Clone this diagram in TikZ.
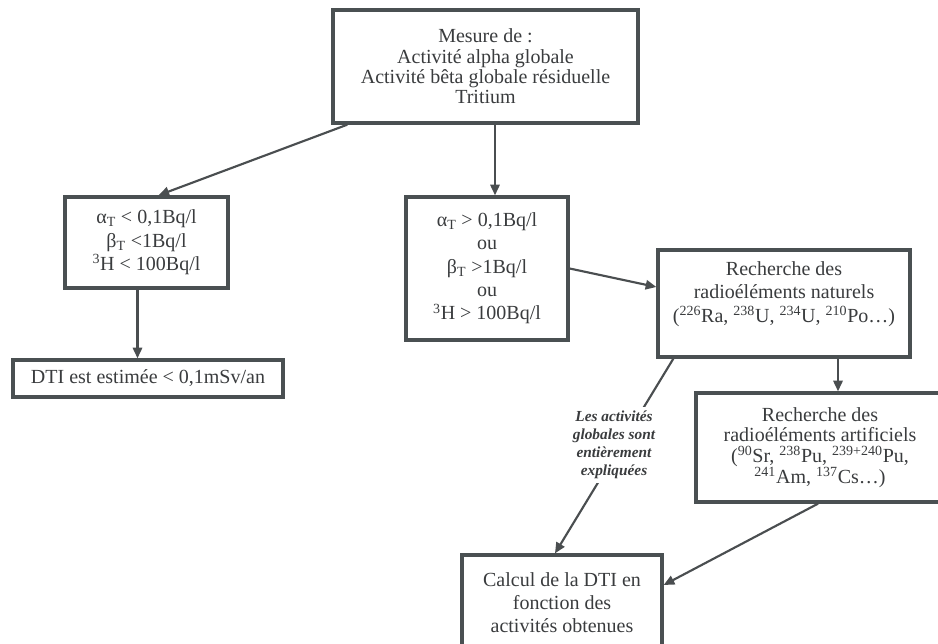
\documentclass[tikz,border=0pt]{standalone}
\usepackage{fontspec}
\setmainfont{Liberation Serif}
\usetikzlibrary{arrows.meta,calc}
\definecolor{boxc}{HTML}{4A5052}
\definecolor{txtc}{HTML}{3A3C3E}
\definecolor{arrc}{HTML}{4A4E50}
\begin{document}
\begin{tikzpicture}[x=0.75pt,y=-0.75pt,
  box/.style={draw=boxc,line width=2.5pt,fill=white,inner sep=0pt,align=center,
    text=txtc,font=\fontsize{15}{17.5}\selectfont},
  arr/.style={draw=arrc,line width=1.6pt,-{Triangle[length=8pt,width=7pt]}},
  lbl/.style={fill=white,align=center,text=txtc,inner sep=3pt,
    font=\fontsize{11.5}{13.5}\selectfont\bfseries\itshape}]
\useasboundingbox (0,0) rectangle (938,643);
\clip (0,0) rectangle (938,643);
\fill[white] (0,0) rectangle (938,643);

\node[box,minimum width=228.75pt,minimum height=84.75pt,font=\fontsize{15}{15.2}\selectfont] (top) at (485.5,66.5)
  {Mesure de :\\Activité alpha globale\\Activité bêta globale résiduelle\\Tritium};
\node[box,minimum width=122.25pt,minimum height=68.25pt] (lt) at (146.5,242.5)
  {α\textsubscript{T} < 0,1Bq/l\\β\textsubscript{T} <1Bq/l\\\textsuperscript{3}H < 100Bq/l};
\node[box,minimum width=202.5pt,minimum height=27.75pt] (dti) at (148,378.5)
  {DTI est estimée < 0,1mSv/an};
\node[box,minimum width=121.5pt,minimum height=107.25pt] (mid) at (487,268.5)
  {α\textsubscript{T} > 0,1Bq/l\\ou\\β\textsubscript{T} >1Bq/l\\ou\\\textsuperscript{3}H > 100Bq/l};
\node[box,minimum width=189pt,minimum height=80.25pt] (nat) at (784,303.5)
  {Recherche des\\radioéléments naturels\\(\textsuperscript{226}Ra, \textsuperscript{238}U, \textsuperscript{234}U, \textsuperscript{210}Po…)\\\mbox{}};
\node[box,minimum width=186pt,minimum height=81.75pt,font=\fontsize{15}{15.5}\selectfont] (art) at (820,447.5)
  {Recherche des\\radioéléments artificiels\\(\textsuperscript{90}Sr, \textsuperscript{238}Pu, \textsuperscript{239+240}Pu,\\\textsuperscript{241}Am, \textsuperscript{137}Cs…)};
\node[box,minimum width=150pt,minimum height=71.25pt] (calc) at (562,602.5)
  {Calcul de la DTI en\\fonction des\\activités obtenues};

\coordinate (m1) at ($(mid.north)+(8,0)$);
\coordinate (l1) at ($(lt.south)+(-9,0)$);
\coordinate (n1) at ($(nat.south)+(54,0)$);

\draw[arr] ($(top.south west)+(16,0)$) -- ($(lt.north)+(12,0)$);
\draw[arr] (m1 |- top.south) -- (m1);
\draw[arr] (l1) -- (l1 |- dti.north);
\draw[arr] (mid.east) -- ($(nat.west)+(0,-16.5)$);
\draw[arr] (n1) -- (n1 |- art.north);
\draw[arr] ($(nat.south west)+(17,0)$) -- ($(calc.north)+(-7,0)$);
\draw[arr] ($(art.south)+(-2,0)$) -- ($(calc.east)+(0,-17.5)$);

\node[lbl] (expl) at (614,445) {Les activités\\globales sont\\entièrement\\expliquées};
\end{tikzpicture}
\end{document}
